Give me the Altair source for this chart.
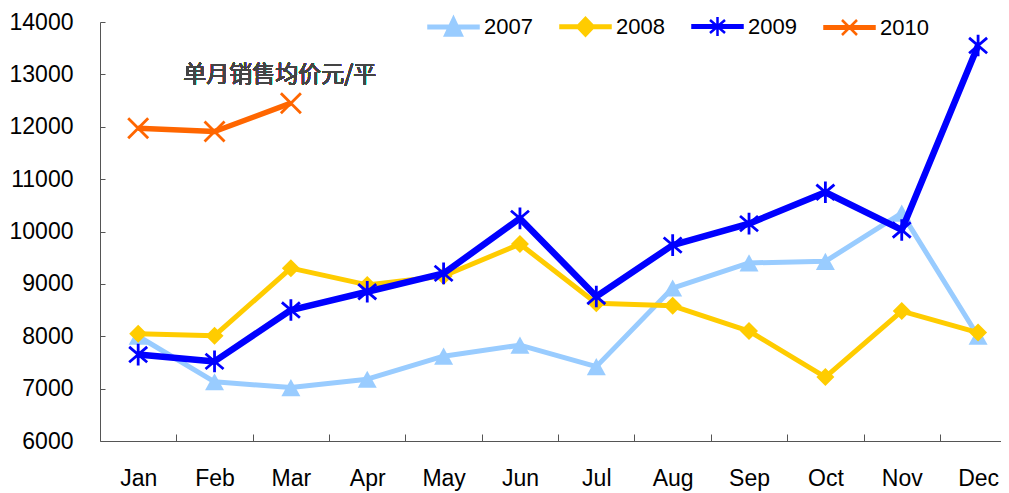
import json
import altair as alt
import pandas as pd

months = ["Jan", "Feb", "Mar", "Apr", "May", "Jun", "Jul", "Aug", "Sep", "Oct", "Nov", "Dec"]
years = ["2007", "2008", "2009", "2010"]
v2007 = [8000, 7130, 7020, 7180, 7620, 7830, 7420, 8920, 9400, 9430, 10350, 8000]
v2008 = [8050, 8010, 9300, 8980, 9150, 9760, 8630, 8580, 8100, 7220, 8480, 8070]
v2009 = [7650, 7520, 8500, 8850, 9200, 10250, 8760, 9740, 10150, 10750, 10030, 13550]
v2010 = [11970, 11910, 12450]
y_ticks = [6000, 7000, 8000, 9000, 10000, 11000, 12000, 13000, 14000]
note = "单月销售均价元/平"

colors = ["#99CCFF", "#FFCC00", "#0000FF", "#FF6600"]
line_widths = [5, 5, 6.5, 5.5]
marker_paths = [
    "M0,-0.9L1,0.9L-1,0.9Z",
    "M0,-1L1,0L0,1L-1,0Z",
    "M-1,-0.85L1,0.85M-1,0.85L1,-0.85M0,-1.2L0,1.2",
    "M-1,-1L1,1M-1,1L1,-1",
]
marker_sizes = [361, 324, 324, 400]
marker_filled = [True, True, False, False]
line_part = "M-1,-0.05L1,-0.05L1,0.05L-1,0.05Z"
legend_paths = [
    line_part + "M0,-0.38L0.34,0.34L-0.34,0.34Z",
    line_part + "M0,-0.36L0.34,0L0,0.36L-0.34,0Z",
    line_part + "M-0.3,-0.26L0.3,0.26M-0.3,0.26L0.3,-0.26M0,-0.38L0,0.38",
    line_part + "M-0.3,-0.3L0.3,0.3M-0.3,0.3L0.3,-0.3",
]

rows = []
for yr, vals in zip(years, [v2007, v2008, v2009, v2010]):
    for i, v in enumerate(vals):
        rows.append({"year": yr, "m": i + 1, "month": months[i], "value": v})
df = pd.DataFrame(rows)

FONT = "Liberation Sans"
AX = "#555555"
x_values = [k * 0.5 for k in range(2, 25)]
month_js = json.dumps(months)

x_enc = alt.X(
    "m:Q",
    scale=alt.Scale(domain=[0.5, 12.3], nice=False, zero=False),
    axis=alt.Axis(
        title=None, values=x_values, labelOverlap=False, labelFlush=False,
        labelExpr=f"datum.value % 1 == 0 ? {month_js}[datum.value - 1] : ''",
        tickSize={"expr": "-7"},
        tickOpacity={"condition": {"test": "datum.value % 1 == 0", "value": 0}, "value": 1},
        labelFont=FONT, labelFontSize=23, labelColor="#000000", labelPadding=33,
        domainColor=AX, tickColor=AX, grid=False,
    ),
)
y_enc = alt.Y(
    "value:Q",
    scale=alt.Scale(domain=[6000, 14000], nice=False, zero=False),
    axis=alt.Axis(
        title=None, values=y_ticks, format="d", labelOverlap=False, labelFlush=False,
        tickSize={"expr": "-5"},
        labelFont=FONT, labelFontSize=23, labelColor="#000000", labelPadding=32,
        domainColor=AX, tickColor=AX, grid=False,
    ),
)
color_scale = alt.Scale(domain=years, range=colors)

layers = []
for k, yr in enumerate(years):
    sub = alt.Chart(df).transform_filter(alt.datum.year == yr)
    layers.append(
        sub.mark_line(strokeWidth=line_widths[k], strokeJoin="round").encode(
            x=x_enc, y=y_enc, color=alt.Color("year:N", scale=color_scale, legend=None)
        )
    )
    layers.append(
        sub.mark_point(
            filled=marker_filled[k], shape=marker_paths[k], size=marker_sizes[k],
            strokeWidth=2.8, opacity=1,
        ).encode(x=x_enc, y=y_enc, color=alt.Color("year:N", scale=color_scale, legend=None))
    )

leg = alt.Legend(
    title=None, orient="none", legendX=327, legendY=-22, direction="horizontal", columns=4,
    symbolSize=2500, symbolStrokeWidth=2.5, labelFont=FONT, labelFontSize=22,
    labelColor="#000000", labelOffset=4, columnPadding=22, padding=0, symbolOpacity=1,
)
legend_layer = alt.Chart(df).mark_point(
    filled=True, size=2500, strokeWidth=2.5, opacity=0
).encode(
    x=x_enc, y=y_enc,
    fill=alt.Fill("year:N", scale=alt.Scale(domain=years, range=colors), legend=leg),
    stroke=alt.Stroke("year:N", scale=alt.Scale(domain=years, range=colors), legend=leg),
    shape=alt.Shape("year:N", scale=alt.Scale(domain=years, range=legend_paths), legend=leg),
)

text_layer = alt.Chart(df).mark_text(
    align="left", baseline="middle", font="Noto Sans CJK SC", fontSize=23, fontWeight="normal",
    color="#444444"
).encode(x=alt.datum(1.59), y=alt.datum(12980), text=alt.datum(note))

chart = alt.layer(legend_layer, *layers, text_layer).properties(
    width=901, height=419, autosize="none",
    padding={"left": 92, "top": 14, "right": 0, "bottom": 52},
    background="white",
).configure_view(stroke=None)

chart.save("out.html", embed_options={"renderer": "svg", "actions": False})
